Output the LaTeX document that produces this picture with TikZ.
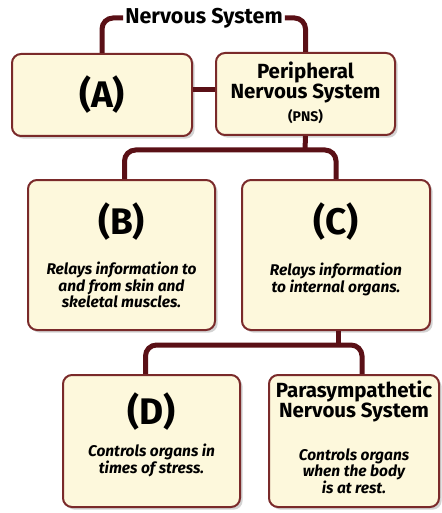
\documentclass[tikz,border=0pt]{standalone}
\usepackage{fontspec}
\setmainfont{Fira Sans}
\usetikzlibrary{positioning,shadows}
\definecolor{linkred}{HTML}{5A1016}
\definecolor{boxedge}{HTML}{7A2A2A}
\definecolor{cream}{HTML}{FDF8DC}
\tikzset{box/.style={draw=boxedge, fill=cream, line width=2pt, rounded corners=9pt, drop shadow={opacity=0.35}, inner sep=0pt},
bigtext/.style={font=\bfseries\fontsize{37}{37}\selectfont, inner sep=0pt},
headtext/.style={font=\bfseries\fontsize{20.5}{19}\selectfont, align=center, inner sep=0pt},
smalltext/.style={font=\bfseries\itshape\fontsize{15.5}{15}\selectfont, align=center, inner sep=0pt},
link/.style={draw=linkred, line width=5pt, rounded corners=11pt},}

\begin{document}
\begin{tikzpicture}[x=1pt, y=-1pt]
\useasboundingbox (0,0) rectangle (441,513);
% boxes
\node [box, minimum width=180pt, minimum height=82pt] (a) at (102,95) {};
\node [box, minimum width=179pt, minimum height=82pt] (pns) at (305.5,94) {};
\node [box, minimum width=187pt, minimum height=150pt] (b) at (121.5,255) {};
\node [box, minimum width=188pt, minimum height=150pt] (c) at (336,255) {};
\node [box, minimum width=177pt, minimum height=132pt] (d) at (151.5,441) {};
\node [box, minimum width=170pt, minimum height=132pt] (para) at (354,441) {};
% title and connectors
\node [headtext, font=\bfseries\fontsize{21.5}{21}\selectfont, inner xsep=2pt] (ns) at (204,18) {Nervous System};
\coordinate (pnsbus) at (305,150);
\coordinate (cbus) at (338,345);
\draw [link] (ns.west) -| (a.north);
\draw [link] (ns.east) -| (pns.north);
\draw [link] ([yshift=5pt]a.east) -- ([yshift=5pt]a.east -| pns.west);
\draw [link] (pns.south) -- (pnsbus);
\draw [link] ([xshift=3pt]b.north) |- (pnsbus) -| (c.north);
\draw [link] ([xshift=2pt]c.south) -- (cbus);
\draw [link] ([xshift=-6pt]d.north) |- (cbus) -| ([xshift=8pt]para.north);
% texts
\node [bigtext] (atext) at (a.center) {(A)};
\node [headtext] (pnstext) at (305.5,82.5) {Peripheral\\Nervous System};
\node [headtext, font=\bfseries\fontsize{14}{14}\selectfont] (pnsabbr) at (305.5,117) {(PNS)};
\node [bigtext] (btext) at (121.5,222) {(B)};
\node [smalltext] (bdesc) at (121.5,285) {Relays information to\\and from skin and\\skeletal muscles.};
\node [bigtext] (ctext) at (336,222) {(C)};
\node [smalltext] (cdesc) at (336,279.5) {Relays information\\to internal organs.};
\node [bigtext] (dtext) at (151.5,412) {(D)};
\node [smalltext] (ddesc) at (151.5,460.5) {Controls organs in\\times of stress.};
\node [headtext] (paratext) at (354,401.5) {Parasympathetic\\Nervous System};
\node [smalltext] (paradesc) at (354,471) {Controls organs\\when the body\\is at rest.};
\end{tikzpicture}
\end{document}
